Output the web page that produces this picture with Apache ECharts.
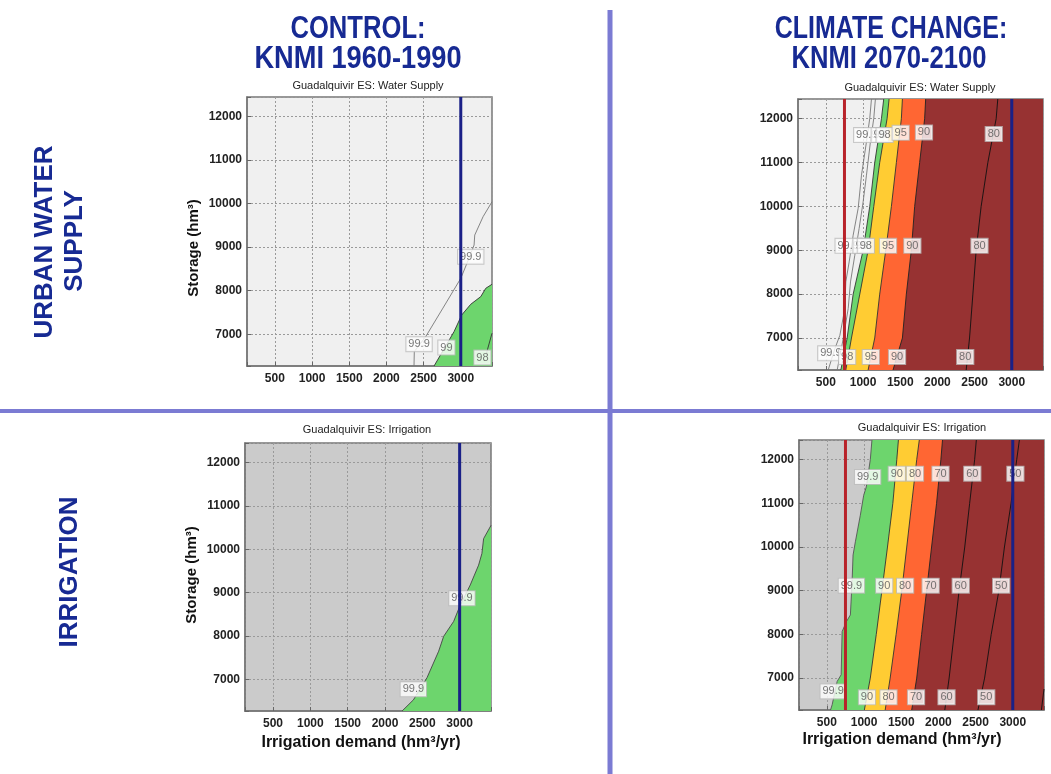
<!DOCTYPE html>
<html>
<head>
<meta charset="utf-8">
<script src="https://cdn.jsdelivr.net/npm/echarts@6/dist/echarts.min.js"></script>
<style>
html,body{margin:0;padding:0;background:#fff;}
#chart{width:1051px;height:774px;}
</style>
</head>
<body>
<div id="chart"></div>
<script>
// ---------------- DATA ----------------
const X_RANGE = [125, 3420];          // irrigation demand (hm3/yr)
const Y_RANGE = [6270, 12450];        // storage (hm3)
const X_TICKS = [500, 1000, 1500, 2000, 2500, 3000];
const Y_TICKS = [7000, 8000, 9000, 10000, 11000, 12000];
const STORAGE_LEVELS = [6270, 7000, 8000, 9000, 10000, 11000, 12000, 12450];

const CURRENT_DEMAND = 3000;   // blue line
const FUTURE_DEMAND = 750;     // red line (climate change panels)

const PANEL_TITLES = ['Guadalquivir ES: Water Supply', 'Guadalquivir ES: Water Supply',
                      'Guadalquivir ES: Irrigation', 'Guadalquivir ES: Irrigation'];
const COLUMN_TITLES = ['CONTROL:', 'KNMI 1960-1990', 'CLIMATE CHANGE:', 'KNMI 2070-2100'];
const ROW_TITLES = ['URBAN WATER', 'SUPPLY', 'IRRIGATION'];
const X_NAME = 'Irrigation demand (hm³/yr)';
const Y_NAME = 'Storage (hm³)';

// Control, water supply: contour lines as [demand, storage]
const WS_CTRL_999 = [[2371,6270],[2375,6600],[2529,6946],[2760,7600],[3000,8284],[3100,8700],[3179,9049],[3188,9278],[3300,9700],[3420,10043]];
const WS_CTRL_99  = [[2641,6270],[2910,7061],[3013,7443],[3134,7688],[3269,7864],[3336,8055],[3420,8147]];
const WS_CTRL_98  = [[3345,6560],[3420,7023]];
const WS_CTRL_LABELS = [[2439,6771,'99.9'],[2807,6694,'99'],[3291,6465,'98'],[3134,8781,'99.9']];

// Climate change, water supply
const WS_CC_999A = [[531,6270],[621,6757],[688,7061],[755,7670],[768,8279],[813,8735],[867,9344],[934,9953],[979,10714],[1046,11475],[1090,12008],[1113,12450]];
const WS_CC_999B = [[652,6270],[733,6985],[800,7670],[831,8279],[889,8887],[947,9496],[1001,10105],[1046,10714],[1099,11475],[1144,12008],[1166,12450]];
const WS_CC_99 = [701, 786, 867, 1001, 1090, 1157, 1247, 1278];   // x at STORAGE_LEVELS
const WS_CC_98 = [768, 844, 956, 1068, 1144, 1224, 1323, 1350];
const WS_CC_95 = [1068, 1157, 1224, 1305, 1381, 1448, 1515, 1529];
const WS_CC_90 = [1403, 1529, 1582, 1649, 1694, 1761, 1828, 1842];
const WS_CC_80 = [2387, 2432, 2477, 2521, 2588, 2678, 2790, 2812];
const WS_CC_LABELS = [
  [1050,11627,'99.9'],[1224,11627,'99'],[1290,11627,'98'],[1506,11680,'95'],[1819,11688,'90'],[2758,11650,'80'],
  [800,9101,'99.9'],[979,9101,'99'],[1037,9101,'98'],[1336,9101,'95'],[1663,9101,'90'],[2566,9101,'80'],
  [567,6650,'99.9'],[786,6566,'98'],[1104,6566,'95'],[1457,6566,'90'],[2374,6566,'80']];

// Control, irrigation
const IR_CTRL_999 = [[2229,6270],[2381,6527],[2563,7038],[2719,7649],[2786,7992],[2920,8336],[3000,8679],[3142,9176],[3254,9634],[3298,9901],[3321,10244],[3420,10550]];
const IR_CTRL_LABELS = [[2380,6771,'99.9'],[3031,8870,'99.9']];

// Climate change, irrigation
const IR_CC_999 = [[549,6270],[571,6391],[638,6924],[692,7076],[705,8066],[763,8294],[816,8446],[839,9207],[852,9816],[883,10120],[950,10729],[995,11186],[1030,11376],[1084,12000],[1106,12450]];
const IR_CC_90 = [1004, 1084, 1164, 1240, 1315, 1387, 1440, 1462];   // x at STORAGE_LEVELS
const IR_CC_80 = [1284, 1351, 1431, 1507, 1574, 1641, 1708, 1743];
const IR_CC_70 = [1641, 1708, 1774, 1841, 1908, 1975, 2033, 2055];
const IR_CC_60 = [2086, 2144, 2211, 2278, 2354, 2420, 2487, 2510];
const IR_CC_50 = [2532, 2621, 2710, 2813, 2888, 2977, 3053, 3089];
const IR_CC_40 = [[3385,6270],[3420,6750]];
const IR_CC_LABELS = [
  [1048,11604,'99.9'],[1440,11680,'90'],[1685,11680,'80'],[2028,11680,'70'],[2456,11680,'60'],[3035,11680,'50'],
  [830,9116,'99.9'],[1271,9116,'90'],[1552,9116,'80'],[1895,9116,'70'],[2300,9116,'60'],[2844,9116,'50'],
  [585,6696,'99.9'],[1039,6559,'90'],[1329,6559,'80'],[1699,6559,'70'],[2109,6559,'60'],[2643,6559,'50']];

// ---------------- STYLE ----------------
const C = {
  bgLight: '#f0f0f0', bgGray: '#cbcbcb', green: '#6dd56d', yellow: '#ffcc33',
  orange: '#ff6633', red: '#973232', blue: '#1a2087', redLine: '#b8232a',
  title: '#172a93', divider: '#7b7bd3'
};
const FONT = '"Liberation Sans", Arial, sans-serif';

const byLevel = xs => STORAGE_LEVELS.map((y, i) => [xs[i], y]);

const GRIDS = [
  {left: 247, top: 97,  width: 245, height: 269, bg: C.bgLight},
  {left: 798, top: 99,  width: 245, height: 271, bg: C.bgLight},
  {left: 245, top: 443, width: 246, height: 268, bg: C.bgGray},
  {left: 799, top: 440, width: 245, height: 270, bg: C.bgGray}
];

const PANELS = [
  { fills: [[WS_CTRL_99, C.green]],
    lines: [[WS_CTRL_999, '#777'], [WS_CTRL_99, '#333'], [WS_CTRL_98, '#333']],
    labels: WS_CTRL_LABELS, red: false },
  { fills: [[byLevel(WS_CC_99), C.green], [byLevel(WS_CC_98), C.yellow], [byLevel(WS_CC_95), C.orange], [byLevel(WS_CC_90), C.red]],
    lines: [[WS_CC_999A, '#777'], [WS_CC_999B, '#777'], [byLevel(WS_CC_99), '#333'], [byLevel(WS_CC_98), '#333'],
            [byLevel(WS_CC_95), '#333'], [byLevel(WS_CC_90), '#222'], [byLevel(WS_CC_80), '#111']],
    labels: WS_CC_LABELS, red: true },
  { fills: [[IR_CTRL_999, C.green]],
    lines: [[IR_CTRL_999, '#444']],
    labels: IR_CTRL_LABELS, red: false },
  { fills: [[IR_CC_999, C.green], [byLevel(IR_CC_90), C.yellow], [byLevel(IR_CC_80), C.orange], [byLevel(IR_CC_70), C.red]],
    lines: [[IR_CC_999, '#555'], [byLevel(IR_CC_90), '#333'], [byLevel(IR_CC_80), '#333'], [byLevel(IR_CC_70), '#222'],
            [byLevel(IR_CC_60), '#111'], [byLevel(IR_CC_50), '#111'], [IR_CC_40, '#111']],
    labels: IR_CC_LABELS, red: true }
];

const grid = [], xAxis = [], yAxis = [], series = [];
GRIDS.forEach((g, i) => {
  grid.push({left: g.left, top: g.top, width: g.width, height: g.height, show: true,
             backgroundColor: g.bg, borderColor: '#777', borderWidth: 1.5});
  xAxis.push({gridIndex: i, type: 'value', min: X_RANGE[0], max: X_RANGE[1],
    axisLine: {show: true, lineStyle: {color: '#777', width: 1.5}},
    axisTick: {show: true, inside: true, length: 4, lineStyle: {color: '#666'}},
    axisLabel: {formatter: v => X_TICKS.includes(v) ? String(v) : '', color: '#222', fontWeight: 'bold',
                fontSize: 12, fontFamily: FONT, margin: 7},
    splitLine: {show: true, lineStyle: {type: [2, 2], color: '#9a9a9a', width: 1}}});
  yAxis.push({gridIndex: i, type: 'value', min: Y_RANGE[0], max: Y_RANGE[1],
    axisLine: {show: true, lineStyle: {color: '#777', width: 1.5}},
    axisTick: {show: true, inside: true, length: 4, lineStyle: {color: '#666'}},
    axisLabel: {formatter: v => Y_TICKS.includes(v) ? String(v) : '', color: '#222', fontWeight: 'bold',
                fontSize: 12, fontFamily: FONT, margin: 5},
    splitLine: {show: true, lineStyle: {type: [2, 2], color: '#9a9a9a', width: 1}}});

  const p = PANELS[i];
  // filled contour regions (each region extends from its boundary to the right edge)
  series.push({
    type: 'custom', xAxisIndex: i, yAxisIndex: i, z: 1, silent: true, clip: true,
    data: p.fills.map((f, k) => [k]),
    renderItem: (params, api) => {
      const f = p.fills[api.value(0)];
      const pts = f[0];
      const poly = pts.concat([[X_RANGE[1], pts[pts.length - 1][1]], [X_RANGE[1], pts[0][1]]]);
      return {type: 'polygon', shape: {points: poly.map(q => api.coord(q))},
              style: {fill: f[1], stroke: null}};
    }
  });
  p.lines.forEach(l => series.push({
    type: 'line', xAxisIndex: i, yAxisIndex: i, z: 2, silent: true, showSymbol: false, symbol: 'none',
    data: l[0], lineStyle: {color: l[1], width: 0.9}, animation: false
  }));
  series.push({
    type: 'scatter', xAxisIndex: i, yAxisIndex: i, z: 3, silent: true, symbolSize: 1,
    itemStyle: {color: 'rgba(0,0,0,0)'},
    data: p.labels,
    label: {show: true, position: 'inside', formatter: q => q.value[2], color: '#555', fontSize: 11,
            fontFamily: FONT, backgroundColor: '#fff', borderColor: '#bbb', borderWidth: 1, padding: [2, 2, 1, 2]}
  });
  series.push({
    type: 'line', xAxisIndex: i, yAxisIndex: i, z: 4, silent: true, showSymbol: false, symbol: 'none',
    data: [[CURRENT_DEMAND, Y_RANGE[0]], [CURRENT_DEMAND, Y_RANGE[1]]],
    lineStyle: {color: C.blue, width: 3}
  });
  if (p.red) series.push({
    type: 'line', xAxisIndex: i, yAxisIndex: i, z: 4, silent: true, showSymbol: false, symbol: 'none',
    data: [[FUTURE_DEMAND, Y_RANGE[0]], [FUTURE_DEMAND, Y_RANGE[1]]],
    lineStyle: {color: C.redLine, width: 3}
  });
});

const txt = (x, y, text, opts) => Object.assign({type: 'text', x, y, silent: true,
  style: Object.assign({text, fontFamily: FONT, align: 'center', verticalAlign: 'middle'}, opts.style)}, opts.el || {});

const graphic = [
  {type: 'line', silent: true, shape: {x1: 610, y1: 10, x2: 610, y2: 774}, style: {stroke: C.divider, lineWidth: 5}},
  {type: 'line', silent: true, shape: {x1: 0, y1: 411, x2: 1051, y2: 411}, style: {stroke: C.divider, lineWidth: 4}},
  txt(358, 29, COLUMN_TITLES[0], {style: {fontSize: 32, fontWeight: 'bold', fill: C.title}, el: {scaleX: 0.8}}),
  txt(358, 59, COLUMN_TITLES[1], {style: {fontSize: 32, fontWeight: 'bold', fill: C.title}, el: {scaleX: 0.85}}),
  txt(891, 29, COLUMN_TITLES[2], {style: {fontSize: 32, fontWeight: 'bold', fill: C.title}, el: {scaleX: 0.78}}),
  txt(889, 59, COLUMN_TITLES[3], {style: {fontSize: 32, fontWeight: 'bold', fill: C.title}, el: {scaleX: 0.8}}),
  txt(45, 242, ROW_TITLES[0], {style: {fontSize: 26, fontWeight: 'bold', fill: C.title}, el: {rotation: Math.PI / 2}}),
  txt(75, 241, ROW_TITLES[1], {style: {fontSize: 26, fontWeight: 'bold', fill: C.title}, el: {rotation: Math.PI / 2}}),
  txt(70, 572, ROW_TITLES[2], {style: {fontSize: 26, fontWeight: 'bold', fill: C.title}, el: {rotation: Math.PI / 2}}),
  txt(368, 86, PANEL_TITLES[0], {style: {fontSize: 11, fill: '#222'}}),
  txt(920, 88, PANEL_TITLES[1], {style: {fontSize: 11, fill: '#222'}}),
  txt(367, 430, PANEL_TITLES[2], {style: {fontSize: 11, fill: '#222'}}),
  txt(922, 428, PANEL_TITLES[3], {style: {fontSize: 11, fill: '#222'}}),
  txt(194, 248, Y_NAME, {style: {fontSize: 15, fontWeight: 'bold', fill: '#111'}, el: {rotation: Math.PI / 2}}),
  txt(192, 575, Y_NAME, {style: {fontSize: 15, fontWeight: 'bold', fill: '#111'}, el: {rotation: Math.PI / 2}}),
  txt(361, 743, X_NAME, {style: {fontSize: 16, fontWeight: 'bold', fill: '#111'}}),
  txt(902, 740, X_NAME, {style: {fontSize: 16, fontWeight: 'bold', fill: '#111'}})
];

const chart = echarts.init(document.getElementById('chart'), null, {renderer: 'canvas'});
chart.setOption({animation: false, backgroundColor: '#fff', grid, xAxis, yAxis, series, graphic});
</script>
</body>
</html>
